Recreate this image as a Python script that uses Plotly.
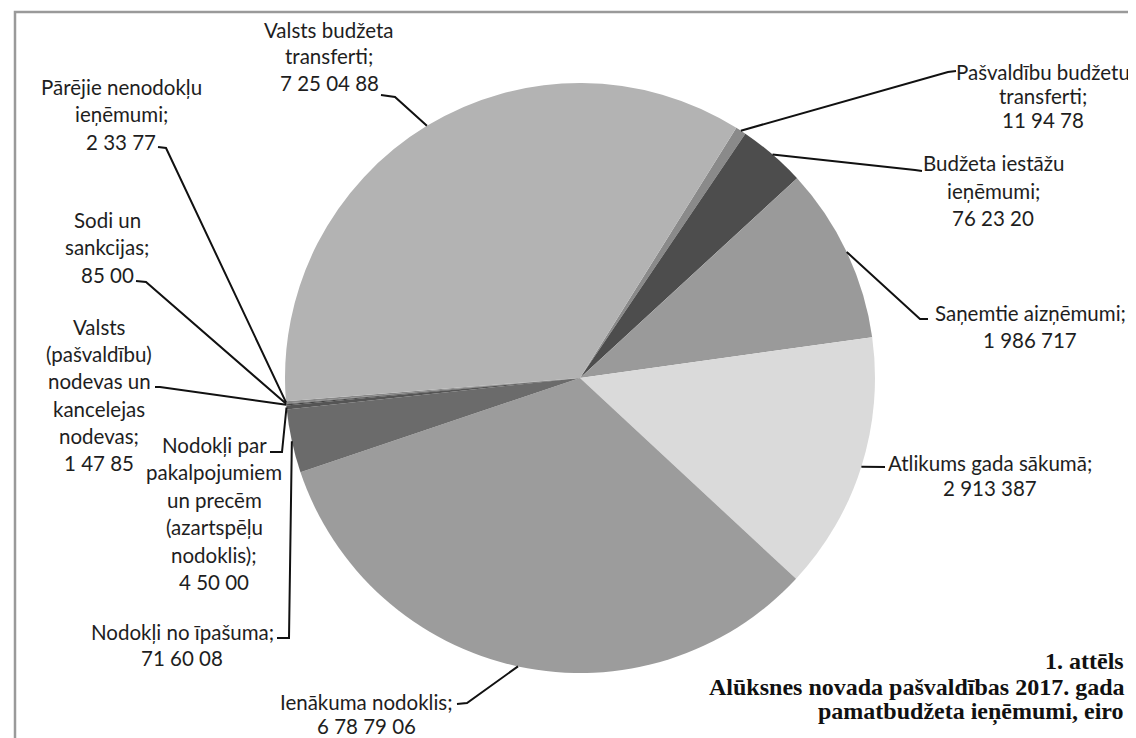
import math
import plotly.graph_objects as go

# ---- data (clockwise order, starting after "Valsts budžeta transferti") ----
categories = [
    "Pašvaldību budžetu transferti",
    "Budžeta iestāžu ieņēmumi",
    "Saņemtie aizņēmumi",
    "Atlikums gada sākumā",
    "Ienākuma nodoklis",
    "Nodokļi no īpašuma",
    "Nodokļi par pakalpojumiem un precēm (azartspēļu nodoklis)",
    "Valsts (pašvaldību) nodevas un kancelejas nodevas",
    "Sodi un sankcijas",
    "Pārējie nenodokļu ieņēmumi",
    "Valsts budžeta transferti",
]
values = [119478, 762320, 1986717, 2913387, 6787906, 716008, 45000, 14785, 8500, 23377, 7250488]
value_labels = ["11 94 78", "76 23 20", "1 986 717", "2 913 387", "6 78 79 06", "71 60 08",
                "4 50 00", "1 47 85", "85 00", "2 33 77", "7 25 04 88"]
label_lines = [
    ["Pašvaldību budžetu", "transferti;"],
    ["Budžeta iestāžu", "ieņēmumi;"],
    ["Saņemtie aizņēmumi;"],
    ["Atlikums gada sākumā;"],
    ["Ienākuma nodoklis;"],
    ["Nodokļi no īpašuma;"],
    ["Nodokļi par", "pakalpojumiem", "un precēm", "(azartspēļu", "nodoklis);"],
    ["Valsts", "(pašvaldību)", "nodevas un", "kancelejas", "nodevas;"],
    ["Sodi un", "sankcijas;"],
    ["Pārējie nenodokļu", "ieņēmumi;"],
    ["Valsts budžeta", "transferti;"],
]
colors = ["#8a8a8a", "#4d4d4d", "#9a9a9a", "#dadada", "#9c9c9c", "#6b6b6b",
          "#555555", "#444444", "#555555", "#888888", "#b3b3b3"]

caption = ["1. attēls", "Alūksnes novada pašvaldības 2017. gada", "pamatbudžeta ieņēmumi, eiro"]

# ---- layout geometry (screen pixels) ----
SW, SH = 1136, 738          # browser window
OFF = 8                     # default page body margin
W, H = SW - OFF, SH - OFF   # figure size so it fills the window exactly
CX, CY, R = 580, 378, 295
ROT = 32

# text layout per label: centre x, first-line y, line spacing, leader points (text side)
text_layout = [
    dict(cx=1043, y0=72, dy=24, lead=[(956, 71), (948, 72)]),
    dict(cx=993, y0=163, dy=27.5, lead=[(922, 171), (915, 170)]),
    dict(cx=1030, y0=313, dy=27, lead=[(928, 319), (920, 319)]),
    dict(cx=990, y0=463, dy=25, lead=[(885, 467)]),
    dict(cx=367, y0=702, dy=24, lead=[(457, 704), (467, 703)]),
    dict(cx=182, y0=632, dy=26, lead=[(277, 638), (289, 638)]),
    dict(cx=214, y0=445, dy=27.4, lead=[(270, 452), (282, 452)]),
    dict(cx=99, y0=327, dy=27.2, lead=[(155, 387), (160, 387)]),
    dict(cx=107, y0=220, dy=27.5, lead=[(136, 281), (146, 282)]),
    dict(cx=121, y0=87, dy=27.5, lead=[(158, 147), (166, 148)]),
    dict(cx=329, y0=30, dy=26.5, lead=[(381, 95), (395, 97)]),
]


def px(x, y):
    """screen pixel -> paper coordinate"""
    return (x - OFF) / W, 1 - (y - OFF) / H


LABEL_FONT = dict(family="Lato, Carlito, Calibri, sans-serif", size=20.5, color="#1e1e1e")

dx0, dy1 = px(CX - R, CY - R)
dx1, dy0 = px(CX + R, CY + R)

fig = go.Figure()
fig.add_trace(go.Pie(
    labels=categories,
    values=values,
    sort=False,
    direction="clockwise",
    rotation=ROT,
    marker=dict(colors=colors, line=dict(width=0)),
    textinfo="none",
    hoverinfo="label+value",
    showlegend=False,
    domain=dict(x=[dx0, dx1], y=[dy0, dy1]),
))

total = sum(values)
annotations = []
shapes = []
cum = 0.0
for i, v in enumerate(values):
    mid = math.radians(ROT + (cum + v / 2) / total * 360)
    cum += v
    ax, ay = CX + R * math.sin(mid), CY - R * math.cos(mid)
    tl = text_layout[i]
    pts = tl["lead"] + [(ax, ay)]
    path = "M " + " L ".join(f"{px(x, y)[0]:.5f},{px(x, y)[1]:.5f}" for x, y in pts)
    shapes.append(dict(type="path", path=path, xref="paper", yref="paper",
                       line=dict(color="#111111", width=2)))
    lines = label_lines[i] + [value_labels[i]]
    for j, t in enumerate(lines):
        x, y = px(tl["cx"], tl["y0"] + j * tl["dy"])
        annotations.append(dict(text=t, x=x, y=y, xref="paper", yref="paper",
                                xanchor="center", yanchor="middle", showarrow=False,
                                font=LABEL_FONT))

cap_y = [661, 687, 712]
for t, y in zip(caption, cap_y):
    x, yy = px(1126, y)
    annotations.append(dict(text=f"<b>{t}</b>", x=x, y=yy, xref="paper", yref="paper",
                            xanchor="right", yanchor="middle", showarrow=False,
                            font=dict(family="Liberation Serif, Times New Roman, serif",
                                      size=24, color="#111111")))

# frame (top and left border)
bx0, by0 = px(15, 738)
bx1, by1 = px(15, 12)
bx2, by2 = px(1136, 12)
shapes.append(dict(type="path", path=f"M {bx0},{by0} L {bx1},{by1} L {bx2},{by2}",
                   xref="paper", yref="paper", line=dict(color="#9a9a9a", width=2.5)))

fig.update_layout(
    width=W, height=H, autosize=False,
    margin=dict(l=0, r=0, t=0, b=0),
    paper_bgcolor="white", plot_bgcolor="white",
    annotations=annotations, shapes=shapes,
)

fig.write_html("out.html")
